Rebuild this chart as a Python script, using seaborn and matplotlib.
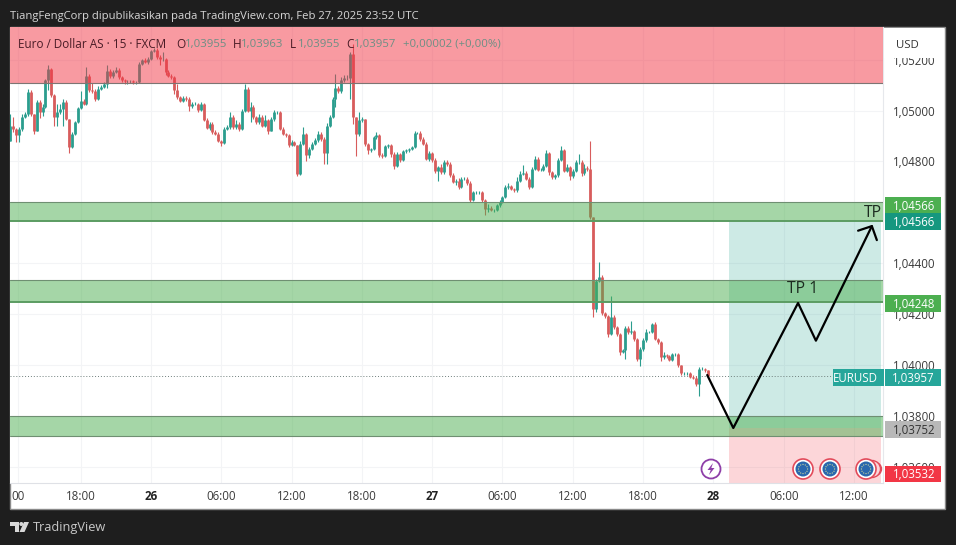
import matplotlib
matplotlib.use("Agg")
import matplotlib.pyplot as plt
from matplotlib.patches import Rectangle, Circle, Polygon
import numpy as np
import pandas as pd
import seaborn as sns

# prices in 0.00001 units
first_open = 104882
close_pts = [
 104941,104928,104902,104928,104974,104987,105072,104987,104921,105033,
 104993,105013,105118,105164,105059,104974,104993,105007,105033,104967,
 104856,104908,104954,105010,105039,105026,105137,105079,105076,105046,
 105085,105094,105105,105157,105134,105151,105161,105131,105118,105114,
 105114,105114,105111,105111,105183,105199,105190,105203,105233,105236,
 105209,105203,105203,105151,105137,105131,105079,105052,105039,105050,
 105046,105016,105026,105026,105003,105024,104963,104931,104948,104915,
 104908,104882,104872,104928,104935,104974,104935,104948,104928,105000,
 105085,105000,105013,104974,104954,104974,104941,104961,104921,104967,
 104993,104993,104928,104908,104902,104866,104876,104866,104751,104869,
 104908,104827,104849,104869,104885,104908,104889,104832,104941,104974,
 105046,105089,105076,105118,105128,105128,105223,104974,104908,104961,
 104967,104869,104843,104849,104895,104902,104827,104823,104859,104863,
 104830,104784,104830,104806,104840,104843,104849,104856,104911,104911,
 104889,104869,104810,104832,104804,104762,104777,104758,104797,104791,
 104745,104719,104725,104699,104732,104732,104715,104649,104678,104678,
 104679,104647,104614,104618,104610,104610,104627,104640,104660,104699,
 104703,104692,104686,104725,104751,104754,104732,104699,104771,104810,
 104767,104767,104784,104832,104758,104738,104745,104806,104843,104764,
 104777,104741,104764,104797,104797,104754,104775,104771,104581,104221,
 104332,104348,104204,104191,104123,104188,104149,104123,104051,104058,
 104147,104130,104133,104103,104025,104064,104097,104130,104130,104162,
 104103,104090,104031,104038,104034,104021,104042,104044,103999,103968,
 103968,103968,103955,103950,103927,103986,103986,103979,103957]
upper_wick_pts = [
 46,33,5,6,13,6,13,9,0,7,
 7,13,7,16,3,7,33,20,13,7,
 0,7,4,3,39,7,33,7,29,7,
 13,6,8,20,6,8,8,5,4,6,
 6,5,6,4,8,5,6,6,6,8,
 8,10,26,4,10,8,6,26,6,7,
 7,6,7,8,4,8,6,6,8,5,
 7,6,3,8,7,20,10,13,7,7,
 20,8,20,7,6,13,8,20,6,7,
 8,6,7,8,4,6,8,6,0,13,
 26,5,7,8,6,10,8,6,8,7,
 8,55,8,13,10,13,7,40,0,33,
 6,0,5,5,6,13,6,5,7,5,
 7,8,7,5,6,6,5,5,8,5,
 8,6,6,8,5,8,6,13,7,10,
 7,8,5,8,6,6,5,8,5,5,
 4,4,4,13,6,5,7,8,6,7,
 13,5,5,13,10,33,7,7,7,10,
 8,7,7,13,5,5,5,6,18,6,
 13,7,7,8,33,7,13,8,110,0,
 8,56,5,5,7,85,7,5,5,4,
 6,6,40,5,5,7,8,13,5,4,
 6,5,5,13,5,6,5,5,4,3,
 4,6,4,7,6,8,6,3,3]
lower_wick_pts = [
 0,13,26,26,7,5,7,7,13,3,
 22,13,3,36,5,36,36,8,66,4,
 24,3,5,4,4,3,3,5,6,7,
 4,5,6,16,6,5,4,6,5,10,
 8,5,6,6,4,5,5,6,5,4,
 5,24,8,13,7,8,13,7,7,6,
 8,16,7,6,7,5,5,5,6,6,
 6,5,10,3,5,6,7,8,7,5,
 6,5,46,6,6,7,7,7,13,3,
 7,7,6,6,6,10,6,6,10,5,
 5,24,13,5,5,7,7,42,42,7,
 5,33,7,6,5,7,82,26,85,7,
 7,7,13,6,6,5,8,8,7,5,
 13,13,6,8,5,6,5,5,5,5,
 7,6,6,8,8,8,40,8,7,7,
 5,5,10,8,5,6,6,8,6,5,
 5,5,26,13,5,7,5,5,5,5,
 6,6,8,5,5,5,6,6,5,5,
 6,5,5,5,10,8,7,5,5,7,
 6,13,5,5,7,10,7,7,7,33,
 13,5,8,7,13,5,6,7,10,5,
 33,7,7,8,8,30,8,6,5,5,
 6,7,13,6,5,6,5,5,6,5,
 5,5,5,5,10,50,6,5,5]

x_tick_pos = [2.7, 24, 48, 72, 96, 120, 144, 168, 192, 216, 240, 264, 288]
x_tick_labels = ["00", "18:00", "26", "06:00", "12:00", "18:00", "27", "06:00", "12:00", "18:00", "28", "06:00", "12:00"]
y_tick_vals = [1.052, 1.050, 1.048, 1.044, 1.042, 1.040, 1.038, 1.036]
y_tick_labels = ["1,05200", "1,05000", "1,04800", "1,04400", "1,04200", "1,04000", "1,03800", "1,03600"]

resistance_zone = (1.05110, 1.05330)
green_zones = [(1.04566, 1.04639), (1.04248, 1.04336), (1.03721, 1.03800)]
tp_price = 1.04566
entry_price = 1.03752
stop_price = 1.03532
last_price = 1.03957
position_bars = (245.4, 297.3)

path_bars = [237.9, 246.8, 268.9, 275.0, 294.1]
path_prices = [1.03961, 1.03753, 1.04244, 1.04096, 1.04546]
arrow_bars = [289.4, 294.1, 295.8]
arrow_prices = [1.04528, 1.04546, 1.04491]

W, H = 956, 545
UP, DOWN = "#2b9d8e", "#d85c5c"
DARK = "#1e1e1e"
FONT = "Open Sans"

sns.set_theme(style="white")
plt.rcParams["font.family"] = [FONT, "DejaVu Sans"]

close = np.array(close_pts) / 1e5
open_ = np.r_[first_open / 1e5, close[:-1]]
high = np.maximum(open_, close) + np.array(upper_wick_pts) / 1e5
low = np.minimum(open_, close) - np.array(lower_wick_pts) / 1e5
bars = np.arange(len(close))
side = np.where(close >= open_, "up", "down")

wicks = pd.DataFrame({"bar": np.r_[bars, bars], "price": np.r_[low, high], "side": np.r_[side, side]})
bodies = pd.DataFrame({"bar": np.r_[bars, bars], "price": np.r_[open_, close], "side": np.r_[side, side]})

fig = plt.figure(figsize=(W / 100, H / 100), dpi=100, facecolor=DARK)
def px_axes(x0, y0, x1, y1):
    return [x0 / W, 1 - y1 / H, (x1 - x0) / W, (y1 - y0) / H]

fig.patches.append(Rectangle((10 / W, 1 - 509 / H), 935 / W, 482 / H, transform=fig.transFigure,
                             facecolor="white", edgecolor="#8a8a8a", lw=1, zorder=-5))

ax = fig.add_axes(px_axes(10, 27, 883, 483), facecolor="white")
palette = {"up": UP, "down": DOWN}
sns.lineplot(data=wicks, x="bar", y="price", hue="side", units="bar", estimator=None, palette=palette,
             lw=0.8, legend=False, ax=ax, sort=False, solid_capstyle="butt", zorder=3)
sns.lineplot(data=bodies, x="bar", y="price", hue="side", units="bar", estimator=None, palette=palette,
             lw=2.0, legend=False, ax=ax, sort=False, solid_capstyle="butt", zorder=3)

ax.set_xlim(-0.1, 297.9)
ax.set_ylim(1.03537, 1.05328)
ax.set_xlabel(""); ax.set_ylabel("")
for s in ax.spines.values():
    s.set_visible(False)
ax.spines["bottom"].set_visible(True); ax.spines["bottom"].set_color("#dfe1e6"); ax.spines["bottom"].set_linewidth(0.8)
ax.spines["right"].set_visible(True); ax.spines["right"].set_color("#e6e8ec"); ax.spines["right"].set_linewidth(0.8)
ax.set_xticks(x_tick_pos, x_tick_labels)
ax.yaxis.tick_right()
ax.set_yticks(y_tick_vals, y_tick_labels)
ax.tick_params(axis="x", length=0, pad=5, labelsize=8.3, labelcolor="#3a3a3a")
ax.tick_params(axis="y", length=0, pad=7.5, labelsize=8.3, labelcolor="#3a3a3a")
for lab, txt in zip(ax.get_xticklabels(), x_tick_labels):
    if txt in ("26", "27", "28"):
        lab.set_fontweight("bold"); lab.set_color("#222222")
ax.grid(True, color="#f3f4f6", lw=0.8, zorder=0)
ax.set_axisbelow(True)

ax.axhspan(*resistance_zone, color="#f23645", alpha=0.5, lw=0, zorder=4)
ax.axhline(resistance_zone[0], color="#7d7573", lw=0.8, zorder=5)
ax.fill_between(position_bars, entry_price, tp_price, color="#089981", alpha=0.2, lw=0, zorder=2)
ax.fill_between(position_bars, stop_price, entry_price, color="#f23645", alpha=0.2, lw=0, zorder=2)
for i, (lo, hi) in enumerate(green_zones):
    ax.axhspan(lo, hi, color="#4caf50", alpha=0.5, lw=0, zorder=4)
    ax.axhline(hi, color="#6f8f72", lw=0.8, zorder=5)
    ax.axhline(lo, color="#5b9c62" if i < 2 else "#6f8f72", lw=1.4 if i < 2 else 0.8, zorder=5)
ax.axhline(last_price, color="#6f7f7c", lw=0.7, ls=(0, (1, 2)), zorder=2)

sns.lineplot(x=path_bars, y=path_prices, sort=False, estimator=None, color="black", lw=1.6, ax=ax, zorder=6)
sns.lineplot(x=arrow_bars, y=arrow_prices, sort=False, estimator=None, color="black", lw=1.6, ax=ax, zorder=6)
ax.set_xlim(-0.1, 297.9)
ax.set_ylim(1.03537, 1.05328)
ax.text(294.6, 1.04597, "TP", fontsize=11.3, color="#1c2b20", ha="center", va="center", zorder=7)
ax.text(270.3, 1.04298, "TP 1", fontsize=11.3, color="#1c2b20", ha="center", va="center", zorder=7)

# pixel-space overlay for the chart chrome
ov = fig.add_axes([0, 0, 1, 1], facecolor="none")
ov.set_xlim(0, W); ov.set_ylim(H, 0); ov.axis("off")

ov.text(10, 17, "TiangFengCorp dipublikasikan pada TradingView.com, Feb 27, 2025 23:52 UTC",
        color="#d6d6d6", fontsize=8.1, va="center", ha="left")

LEG_DARK, LEG_VAL = "#4a1c26", "#6c8f84"
ov.text(18, 44, "Euro / Dollar AS · 15 · FXCM", color=LEG_DARK, fontsize=8.5, va="center")
for x, t in [(176, "O"), (233, "H"), (290, "L"), (346, "C")]:
    ov.text(x, 44, t, color=LEG_DARK, fontsize=8.5, va="center")
for x, t in [(185, "1,03955"), (241, "1,03963"), (298, "1,03955"), (354, "1,03957"), (403, "+0,00002 (+0,00%)")]:
    ov.text(x, 44, t, color=LEG_VAL, fontsize=8.2, va="center")

ov.add_patch(Rectangle((884, 28), 60, 30, color="white", lw=0))
ov.text(907, 46, "USD", color="#333333", fontsize=8.2, ha="center", va="center")

def box(x0, y0, x1, y1, color, text, tc="white", weight="medium"):
    ov.add_patch(Rectangle((x0, y0), x1 - x0, y1 - y0, color=color, lw=0))
    ov.text(x1 - 6, (y0 + y1) / 2 + 1, text, color=tc, fontsize=8.3, ha="right", va="center", fontweight=weight)

box(885, 197, 941, 213, "#4caf50", "1,04566")
box(885, 213, 941, 230, "#15977f", "1,04566")
box(885, 295, 941, 311.5, "#4caf50", "1,04248")
box(833, 369, 884, 386, "#26a69a", "EURUSD")
box(885, 369, 941, 386, "#26a69a", "1,03957")
box(885, 421, 941, 438, "#b8b8b8", "1,03752", tc="#333333", weight="normal")
box(885, 466, 941, 482, "#f23645", "1,03532")

# purple lightning icon
ov.add_patch(Circle((711, 469), 9.5, facecolor="white", edgecolor="#8e3fa8", lw=1.3))
ov.add_patch(Polygon([(713, 463), (707.5, 470), (710.7, 470), (709, 475), (714.5, 468), (711.3, 468)], color="#8e3fa8", lw=0))

def flag(cx, cy):
    ov.add_patch(Circle((cx, cy), 10, facecolor="white", edgecolor="#e24a5a", lw=1.2))
    ov.add_patch(Circle((cx, cy), 7.5, facecolor="#2a68ad", lw=0))
    for a in np.deg2rad(np.arange(0, 360, 30)):
        ov.add_patch(Circle((cx + 4.6 * np.cos(a), cy + 4.6 * np.sin(a)), 0.6, color="#d9dc9a", lw=0))

ov.add_patch(Circle((875, 469), 6.5, facecolor="#fbd5da", edgecolor="#e24a5a", lw=1))
ov.add_patch(Circle((872, 469), 8.5, facecolor="#fbd5da", edgecolor="#e24a5a", lw=1))
for cx in (803, 830, 866):
    flag(cx, 469)

# TradingView logo
ov.add_patch(Polygon([(10, 522), (19, 522), (19, 532), (15, 532), (15, 526), (10, 526)], color="#d8d8d8", lw=0))
ov.add_patch(Circle((21.3, 524), 2, color="#d8d8d8", lw=0))
ov.add_patch(Polygon([(24, 522), (29, 522), (24.5, 532), (19.5, 532)], color="#d8d8d8", lw=0))
ov.text(33, 528, "TradingView", color="#c8c8c8", fontsize=9.2, va="center", ha="left")

fig.savefig("out.png", dpi=100, facecolor=DARK)
